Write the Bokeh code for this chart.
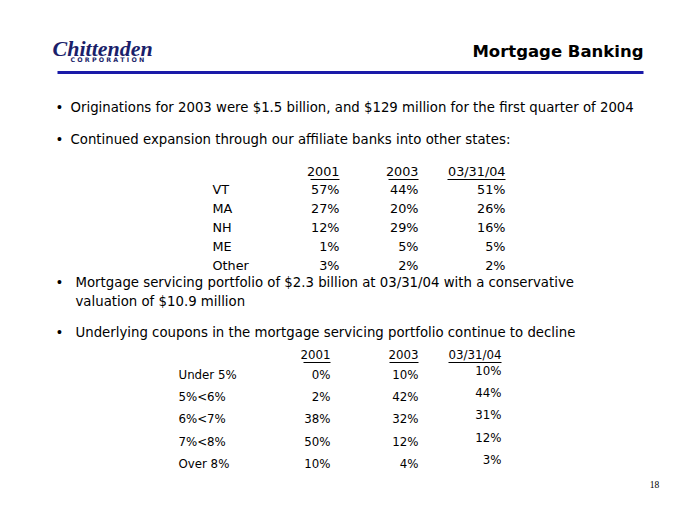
from bokeh.plotting import figure
from bokeh.models import ColumnDataSource, Range1d
from bokeh.core.properties import value
from bokeh.embed import file_html
from bokeh.resources import INLINE

# ---------------- data ----------------
title = "Mortgage Banking"
company = "Chittenden"
company_sub = "C O R P O R A T I O N"
page_number = "18"

bullet_lines = [
    "Originations for 2003 were $1.5 billion, and $129 million for the first quarter of 2004",
    "Continued expansion through our affiliate banks into other states:",
    "Mortgage servicing portfolio of $2.3 billion at 03/31/04 with a conservative",
    "valuation of $10.9 million",
    "Underlying coupons in the mortgage servicing portfolio continue to decline",
]

periods = ["2001", "2003", "03/31/04"]

states = ["VT", "MA", "NH", "ME", "Other"]
state_2001 = [57, 27, 12, 1, 3]
state_2003 = [44, 20, 29, 5, 2]
state_q1_2004 = [51, 26, 16, 5, 2]

coupons = ["Under 5%", "5%<6%", "6%<7%", "7%<8%", "Over 8%"]
coupon_2001 = [0, 2, 38, 50, 10]
coupon_2003 = [10, 42, 32, 12, 4]
coupon_q1_2004 = [10, 44, 31, 12, 3]

# ---------------- layout / style ----------------
FONT = "DejaVu Sans"
BODY = "13.3px"
TABLE1 = "12.8px"
TABLE2 = "11.8px"
NAVY = "#1b1f6b"
BLUE = "#1a1aa8"
TDY = -6  # text baseline correction

p = figure(width=664, height=494, x_range=Range1d(0, 664), y_range=Range1d(494, 0),
           output_backend="svg", toolbar_location=None, min_border=0)
p.axis.visible = False
p.grid.visible = False
p.outline_line_color = None
p.background_fill_color = "white"
p.border_fill_color = "white"


def txt(x, y, s, size, align="left", style="normal", font=FONT, color="black"):
    p.text(x=[x], y=[y + TDY], text=[s], text_font=value(font), text_font_size=size,
           text_align=align, text_baseline="alphabetic", text_font_style=style,
           text_color=color)


# logo
txt(52, 54, company, "22px", style="bold italic", font="Liberation Serif", color=NAVY)
txt(70, 65, company_sub, "6.3px", style="bold", font=FONT, color=NAVY)

# title and rule
txt(643, 57, title, "16.5px", align="right", style="bold")
p.segment(x0=[57], y0=[72], x1=[643], y1=[72], line_color=BLUE, line_width=3)

# bullets
bullet_x = 55
bullet_specs = [(70, 113, True), (70, 145, True), (75, 288, True), (75, 307, False), (75, 338, True)]
for line, (tx, by, has_bullet) in zip(bullet_lines, bullet_specs):
    if has_bullet:
        txt(bullet_x, by, "\u2022", BODY)
    txt(tx, by, line, BODY)


def table(labels, cols, label_x, right_xs, header_y, row_ys, last_col_shift, ul_widths, size):
    for per, rx, w in zip(periods, right_xs, ul_widths):
        txt(rx, header_y, per, size, align="right")
        p.segment(x0=[rx - w], y0=[header_y + 2], x1=[rx], y1=[header_y + 2],
                  line_color="black", line_width=1)
    src = ColumnDataSource(dict(y=[y + TDY for y in row_ys], label=labels))
    p.text(x=label_x, y="y", text="label", source=src, text_font=value(FONT),
           text_font_size=size, text_baseline="alphabetic", text_color="black")
    for i, (vals, rx) in enumerate(zip(cols, right_xs)):
        shift = last_col_shift if i == len(cols) - 1 else 0
        s = ColumnDataSource(dict(y=[y - shift + TDY for y in row_ys],
                                  t=[f"{v}%" for v in vals]))
        p.text(x=rx, y="y", text="t", source=s, text_font=value(FONT),
               text_font_size=size, text_align="right", text_baseline="alphabetic",
               text_color="black")


table(states, [state_2001, state_2003, state_q1_2004], 212, [339, 418, 505],
      177, [195, 214, 233, 252, 271], 0, [29, 30, 58], TABLE1)
table(coupons, [coupon_2001, coupon_2003, coupon_q1_2004], 178, [330, 418, 501],
      360, [380, 402, 424, 447, 469], 3.5, [27, 29, 53], TABLE2)

# page number (kept inside the canvas)
txt(654, 490, page_number, "9.5px", align="center", font="Liberation Serif")

open("out.html", "w").write(file_html(p, INLINE))
